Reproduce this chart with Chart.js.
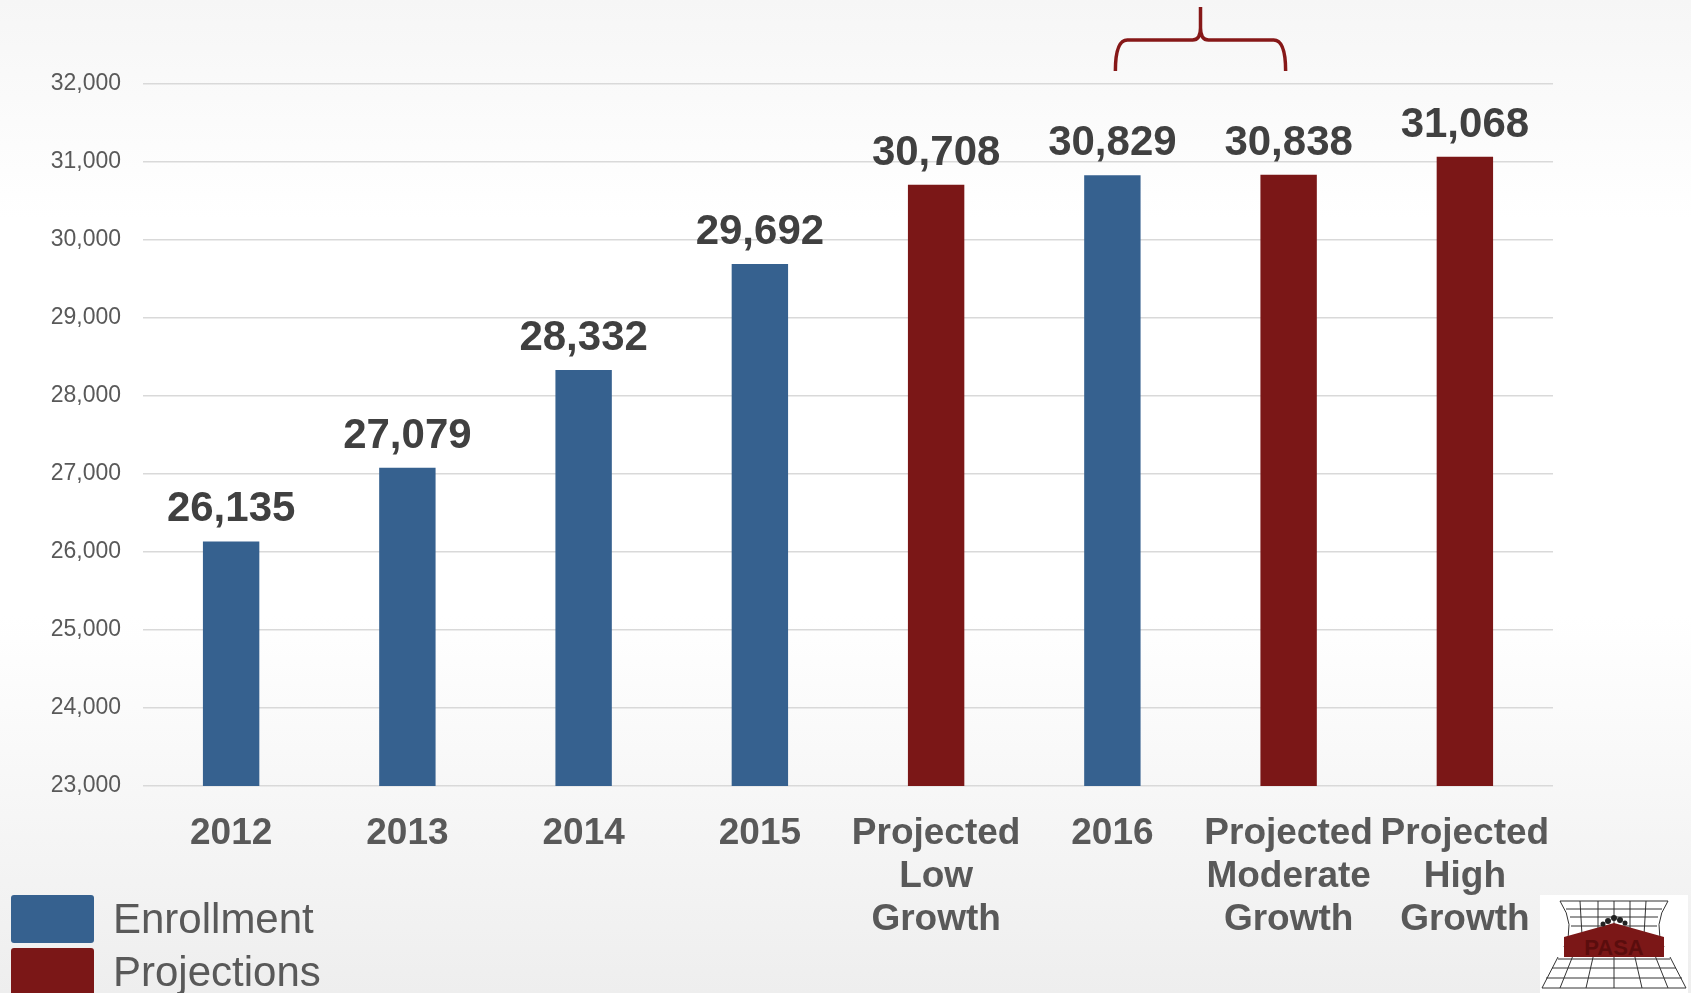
<!DOCTYPE html>
<html>
<head>
<meta charset="utf-8">
<script src="https://cdn.jsdelivr.net/npm/chart.js@4.4.1/dist/chart.umd.min.js"></script>
<style>
  html, body { margin: 0; padding: 0; }
  body {
    width: 1691px; height: 993px; overflow: hidden; position: relative;
    background: linear-gradient(#f6f6f6 0%, #ffffff 22%, #ffffff 62%, #eeeeee 100%);
    font-family: "Liberation Sans", Arial, sans-serif;
  }
  #wrap { position: absolute; left: 0; top: 0; width: 1691px; height: 993px; }
  #legend { position: absolute; left: 11px; top: 895px; }
  .item { display: flex; align-items: center; height: 48px; margin-bottom: 5px; }
  .box { width: 83px; height: 48px; border-radius: 3px; margin-right: 19px; }
  .txt { font-size: 42px; color: #595959; }
  #logo { position: absolute; left: 1540px; top: 895px; }
</style>
</head>
<body>
<div id="wrap"><canvas id="chart"></canvas></div>
<div id="legend"></div>
<svg id="logo" width="148" height="98" viewBox="0 0 148 98">
  <rect x="0" y="0" width="148" height="98" fill="#ffffff"/>
  <g stroke="#333" stroke-width="1" fill="none">
    <path d="M20 6 Q36 30 24 52 M128 6 Q112 30 124 52"/>
    <path d="M20 6 L128 6 M26 14 L122 14 M30 22 L118 22 M31 31 L117 31"/>
    <path d="M40 6 L42 40 M58 6 L58 40 M74 6 L74 40 M90 6 L90 40 M106 6 L104 40"/>
    <path d="M18 64 L130 64 M12 73 L136 73 M6 83 L142 83 M2 93 L146 93 L130 62 M2 93 L18 62"/>
    <path d="M34 58 L20 93 M54 58 L46 93 M74 58 L74 93 M94 58 L102 93 M114 58 L128 93"/>
  </g>
  <path d="M24 42 L74 28 L124 42 L124 62 L24 62 Z" fill="#7b1717"/>
  <text x="74" y="60" text-anchor="middle" font-family="Liberation Sans, Arial" font-weight="bold" font-size="22" fill="#5a0d0d">PASA</text>
  <g fill="#222"><circle cx="68" cy="26" r="3"/><circle cx="74" cy="23" r="3"/><circle cx="80" cy="25" r="3"/><circle cx="63" cy="29" r="2.5"/><circle cx="85" cy="28" r="2.5"/></g>
</svg>
<script>
const categories = ['2012', '2013', '2014', '2015', ['Projected', 'Low', 'Growth'], '2016', ['Projected', 'Moderate', 'Growth'], ['Projected', 'High', 'Growth']];
const enrollment = [26135, 27079, 28332, 29692, null, 30829, null, null];
const projections = [null, null, null, null, 30708, null, 30838, 31068];
const yMin = 23000;
const yMax = 32000;
const yStep = 1000;

const blue = '#36618f';
const red = '#7b1717';

// value labels above every bar
const valueLabels = {
    id: 'valueLabels',
    afterDatasetsDraw(chart) {
        const ctx = chart.ctx;
        ctx.save();
        ctx.font = 'bold 42px "Liberation Sans", Arial, sans-serif';
        ctx.fillStyle = '#404040';
        ctx.textAlign = 'center';
        ctx.textBaseline = 'alphabetic';
        chart.data.datasets.forEach((ds, i) => {
            chart.getDatasetMeta(i).data.forEach((bar, j) => {
                const v = ds.data[j];
                if (v == null) return;
                ctx.fillText(v.toLocaleString('en-US'), bar.x, bar.y - 20);
            });
        });
        ctx.restore();
    }
};

// curly bracket over 2016 and the moderate projection
const bracket = {
    id: 'bracket',
    afterDraw(chart) {
        const ctx = chart.ctx;
        const x = chart.scales.x;
        const top = chart.chartArea.top;
        const x1 = x.getPixelForValue(5) + 3;
        const x2 = x.getPixelForValue(6) - 3;
        const mid = (x1 + x2) / 2;
        const yEnd = top - 13, yBar = top - 44, yTip = top - 77;
        ctx.save();
        ctx.strokeStyle = '#861818';
        ctx.lineWidth = 3.5;
        ctx.beginPath();
        ctx.moveTo(x1, yEnd);
        ctx.quadraticCurveTo(x1, yBar, x1 + 12, yBar);
        ctx.lineTo(mid - 8, yBar);
        ctx.quadraticCurveTo(mid, yBar, mid, yBar - 12);
        ctx.lineTo(mid, yTip);
        ctx.moveTo(mid, yBar - 12);
        ctx.quadraticCurveTo(mid, yBar, mid + 8, yBar);
        ctx.lineTo(x2 - 12, yBar);
        ctx.quadraticCurveTo(x2, yBar, x2, yEnd);
        ctx.stroke();
        ctx.restore();
    }
};

const ctx = document.getElementById('chart').getContext('2d');
const chart = new Chart(ctx, {
    type: 'bar',
    data: {
        labels: categories,
        datasets: [{
            label: 'Enrollment',
            data: enrollment,
            backgroundColor: blue,
            grouped: false,
            barPercentage: 0.32,
            categoryPercentage: 1
        }, {
            label: 'Projections',
            data: projections,
            backgroundColor: red,
            grouped: false,
            barPercentage: 0.32,
            categoryPercentage: 1
        }]
    },
    options: {
        responsive: true,
        maintainAspectRatio: false,
        animation: false,
        layout: { padding: { top: 84, right: 138, bottom: 0, left: 0 } },
        plugins: {
            legend: { display: false },
            tooltip: { enabled: false }
        },
        scales: {
            x: {
                grid: { display: false },
                border: { display: false },
                ticks: {
                    color: '#595959',
                    padding: 18,
                    maxRotation: 0,
                    autoSkip: false,
                    font: { family: '"Liberation Sans", Arial, sans-serif', size: 37, weight: 'bold', lineHeight: 1.16 }
                },
                afterFit(scale) { scale.height = 207; }
            },
            y: {
                min: yMin,
                max: yMax,
                grid: { color: '#d9d9d9', lineWidth: 1.5, drawTicks: false },
                border: { display: false },
                ticks: {
                    stepSize: yStep,
                    color: '#595959',
                    padding: 22,
                    font: { family: '"Liberation Sans", Arial, sans-serif', size: 23 },
                    callback: v => v.toLocaleString('en-US')
                },
                afterFit(scale) { scale.width = 143; }
            }
        }
    },
    plugins: [valueLabels, bracket]
});

// legend built from the datasets
const legend = document.getElementById('legend');
chart.data.datasets.forEach(ds => {
    const item = document.createElement('div');
    item.className = 'item';
    item.innerHTML = '<div class="box" style="background:' + ds.backgroundColor + '"></div><div class="txt">' + ds.label + '</div>';
    legend.appendChild(item);
});
</script>
</body>
</html>
